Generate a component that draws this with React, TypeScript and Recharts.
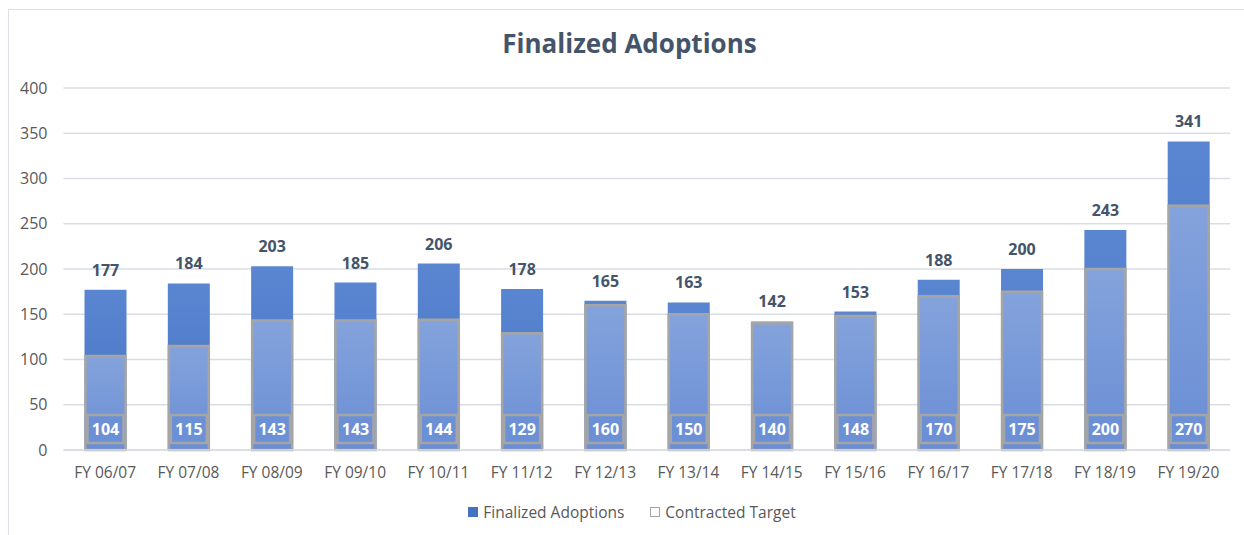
import React from "react";
import { BarChart, Bar, XAxis, YAxis, CartesianGrid, LabelList } from "recharts";

const years = [
  "FY 06/07", "FY 07/08", "FY 08/09", "FY 09/10", "FY 10/11", "FY 11/12", "FY 12/13",
  "FY 13/14", "FY 14/15", "FY 15/16", "FY 16/17", "FY 17/18", "FY 18/19", "FY 19/20",
];
const finalized = [177, 184, 203, 185, 206, 178, 165, 163, 142, 153, 188, 200, 243, 341];
const target = [104, 115, 143, 143, 144, 129, 160, 150, 140, 148, 170, 175, 200, 270];
const yTicks = [0, 50, 100, 150, 200, 250, 300, 350, 400];

const data = years.map((year, i) => ({ year, finalized: finalized[i], target: target[i] }));

const FONT = "'Open Sans', 'Noto Sans', sans-serif";
const DARK = "#44546A";
const GREY = "#595959";

// white number in a grey-bordered box at the foot of each target bar
function TargetLabel(props: any) {
  const { x, y, width, height, value } = props;
  const bottom = y + height;
  const bw = width - 4;
  const bh = 28;
  return (
    <g>
      <rect x={x + 2} y={bottom - 7 - bh} width={bw} height={bh} fill="#6C90D6" stroke="#A5A5A5" strokeWidth={2.5} />
      <text
        x={x + width / 2}
        y={bottom - 7 - bh / 2}
        textAnchor="middle"
        dominantBaseline="central"
        fill="#FFFFFF"
        fontSize={16}
        fontWeight={700}
        fontFamily={FONT}
      >
        {value}
      </text>
    </g>
  );
}

export default function App() {
  return (
    <div style={{ position: "fixed", left: 0, top: 0, width: 1244, height: 535, overflow: "hidden", background: "#fff" }}>
      <div
        style={{
          position: "absolute", left: 8, top: 9, width: 1300, height: 600,
          border: "1px solid #DDE1E7", boxSizing: "border-box",
        }}
      />
      <div
        style={{
          position: "absolute", left: 0, width: 1259, top: 25, textAlign: "center",
          fontFamily: FONT, fontWeight: 700, fontSize: 26, color: DARK,
        }}
      >
        Finalized Adoptions
      </div>
      <div style={{ position: "absolute", left: 0, top: 0 }}>
        <BarChart
          width={1244}
          height={535}
          data={data}
          margin={{ top: 88, right: 14, bottom: 0, left: 0 }}
          barCategoryGap="25%"
        >
          <defs>
            <linearGradient id="gDark" x1="0" y1="0" x2="0" y2="1">
              <stop offset="0%" stopColor="#5A86D1" />
              <stop offset="100%" stopColor="#4472C4" />
            </linearGradient>
            <linearGradient id="gLight" x1="0" y1="0" x2="0" y2="1">
              <stop offset="0%" stopColor="#84A3DC" />
              <stop offset="100%" stopColor="#6A8ED5" />
            </linearGradient>
          </defs>
          <CartesianGrid vertical={false} stroke="#D9DDE3" strokeWidth={1.3} />
          <XAxis
            xAxisId="a"
            dataKey="year"
            height={85}
            axisLine={{ stroke: "#D9DDE3", strokeWidth: 1.5 }}
            tickLine={false}
            tickMargin={11}
            tick={{ fill: GREY, fontSize: 15.5, fontFamily: FONT }}
            interval={0}
          />
          <XAxis xAxisId="b" dataKey="year" hide />
          <YAxis
            domain={[0, 400]}
            ticks={yTicks}
            width={63.5}
            axisLine={false}
            tickLine={false}
            tickSize={0}
            tickMargin={16}
            tick={{ fill: GREY, fontSize: 16, fontFamily: FONT }}
          />
          <Bar xAxisId="a" dataKey="finalized" name="Finalized Adoptions" fill="url(#gDark)" barSize={42} isAnimationActive={false}>
            <LabelList
              dataKey="finalized"
              position="top"
              offset={14}
              fill={DARK}
              fontSize={16}
              fontWeight={700}
              fontFamily={FONT}
            />
          </Bar>
          <Bar
            xAxisId="b"
            dataKey="target"
            name="Contracted Target"
            fill="url(#gLight)"
            stroke="#A5A5A5"
            strokeWidth={2.5}
            barSize={40}
            isAnimationActive={false}
          >
            <LabelList dataKey="target" content={TargetLabel} />
          </Bar>
        </BarChart>
      </div>
      <div
        style={{
          position: "absolute", left: 0, width: 1264, top: 501, display: "flex", justifyContent: "center",
          gap: 26, fontFamily: FONT, fontSize: 15.5, color: GREY,
        }}
      >
        <span style={{ display: "flex", alignItems: "center", gap: 5 }}>
          <span style={{ width: 10, height: 10, background: "#4472C4", display: "inline-block" }} />
          Finalized Adoptions
        </span>
        <span style={{ display: "flex", alignItems: "center", gap: 5 }}>
          <span style={{ width: 8, height: 8, border: "1.5px solid #A5A5A5", display: "inline-block" }} />
          Contracted Target
        </span>
      </div>
    </div>
  );
}
